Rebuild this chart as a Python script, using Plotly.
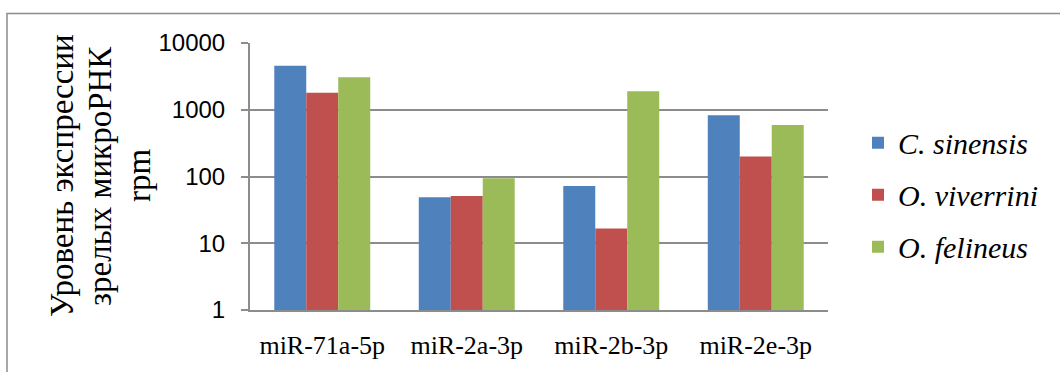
import plotly.graph_objects as go

categories = ["miR-71a-5p", "miR-2a-3p", "miR-2b-3p", "miR-2e-3p"]
series_names = ["C. sinensis", "O. viverrini", "O. felineus"]
c_sinensis = [4550, 49, 72, 830]
o_viverrini = [1800, 51, 16.6, 199]
o_felineus = [3070, 94, 1890, 590]
y_tick_vals = [1, 10, 100, 1000, 10000]
y_tick_text = ["1", "10", "100", "1000", "10000"]
y_title_lines = ["Уровень экспрессии", "зрелых микроРНК", "rpm"]

colors = ["#4F81BD", "#C0504D", "#9BBB59"]
values = [c_sinensis, o_viverrini, o_felineus]
SERIF = "serif"

W, H = 1060, 372
L, R, T, B = 250, 828, 43, 314
pw, ph = R - L, B - T

fig = go.Figure()
for i, (name, vals) in enumerate(zip(series_names, values)):
    fig.add_trace(go.Bar(
        x=categories, y=vals, name=name, marker_color=colors[i],
        marker_line_width=0, legendgroup=f"g{i}",
    ))

def px_x(p):
    return (p - L) / pw

def px_y(p):
    return (B - p) / ph

title_x_px = [62, 100, 139]
annotations = [
    dict(
        text=line, xref="paper", yref="paper",
        x=px_x(xp), y=px_y(178), xanchor="center", yanchor="middle",
        textangle=-90, showarrow=False,
        font=dict(family=SERIF, size=33, color="black"),
    )
    for line, xp in zip(y_title_lines, title_x_px)
]

fig.update_layout(
    width=W, height=H,
    margin=dict(l=L, r=W - R, t=T, b=H - B, pad=0),
    plot_bgcolor="white", paper_bgcolor="white",
    barmode="group", bargap=0.336, bargroupgap=0,
    font=dict(family=SERIF, color="black"),
    showlegend=True,
    legend=dict(
        x=px_x(858), xanchor="left", y=px_y(197), yanchor="middle",
        font=dict(family=SERIF, size=30, style="italic", color="black"),
        traceorder="grouped", tracegroupgap=10,
        bgcolor="rgba(0,0,0,0)",
    ),
    xaxis=dict(
        showgrid=False, showline=True, linecolor="#8c8c8c", linewidth=2,
        tickfont=dict(family=SERIF, size=26, color="black"),
        ticks="", ticklabelstandoff=11,
    ),
    yaxis=dict(
        type="log", range=[0, 4], tickvals=y_tick_vals, ticktext=y_tick_text,
        showgrid=True, gridcolor="#8c8c8c", gridwidth=1.5,
        showline=True, linecolor="#8c8c8c", linewidth=2,
        ticks="outside", ticklen=7, tickcolor="#8c8c8c", tickwidth=1.5,
        tickfont=dict(family="Liberation Sans", size=24, color="black"),
        ticklabelstandoff=11, zeroline=False,
    ),
    shapes=[dict(
        type="rect", xref="paper", yref="paper",
        x0=px_x(7), x1=px_x(1075), y0=px_y(395), y1=px_y(13),
        line=dict(color="#8c8c8c", width=1.5), fillcolor="rgba(0,0,0,0)",
        layer="below",
    )],
    annotations=annotations,
)

fig.write_html("out.html", config={"displayModeBar": False},
               post_script="document.body.style.margin='0';document.body.style.overflow='hidden';")
